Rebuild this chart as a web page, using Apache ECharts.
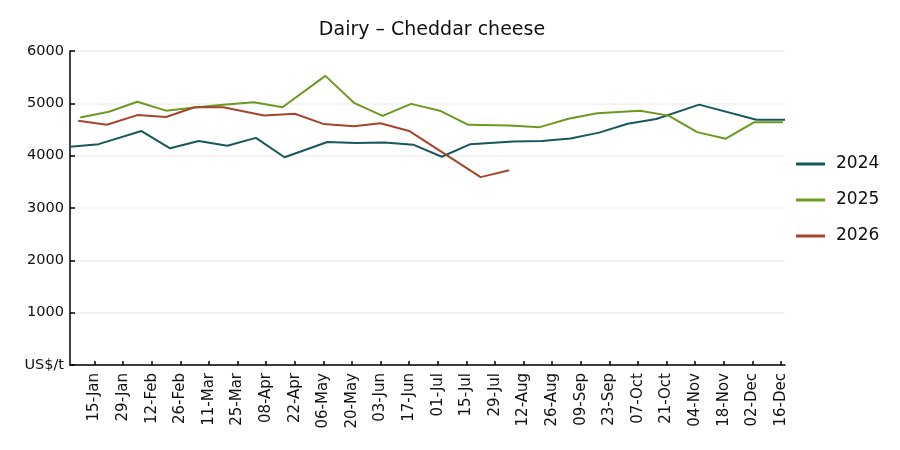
<!DOCTYPE html>
<html>
<head>
<meta charset="utf-8">
<script src="https://cdn.jsdelivr.net/npm/echarts@6/dist/echarts.min.js"></script>
<style>
  html, body { margin: 0; padding: 0; background: #fff; }
  #chart { width: 900px; height: 450px; }
</style>
</head>
<body>
<div id="chart"></div>
<script>
// x values are day-of-year positions on a common calendar
const tickDays = [15, 29, 43, 57, 71, 85, 99, 113, 127, 141, 155, 169, 183,
  197, 211, 225, 239, 253, 267, 281, 295, 309, 323, 337, 351]
const tickLabels = ['15-Jan', '29-Jan', '12-Feb', '26-Feb', '11-Mar', '25-Mar',
  '08-Apr', '22-Apr', '06-May', '20-May', '03-Jun', '17-Jun', '01-Jul', '15-Jul',
  '29-Jul', '12-Aug', '26-Aug', '09-Sep', '23-Sep', '07-Oct', '21-Oct', '04-Nov',
  '18-Nov', '02-Dec', '16-Dec']

const days2024 = [3, 17, 38, 52, 66, 80, 94, 108, 129, 143, 157, 171, 185, 199,
  220, 234, 248, 262, 276, 290, 311, 339, 353]
const values2024 = [4170, 4220, 4470, 4140, 4280, 4190, 4340, 3970, 4260, 4240,
  4250, 4210, 3980, 4220, 4270, 4280, 4330, 4440, 4610, 4700, 4975, 4685, 4685]

const days2025 = [8, 22, 36, 50, 64, 78, 93, 107, 128, 142, 156, 170, 184, 198,
  218, 233, 247, 261, 282, 296, 310, 324, 338, 352]
const values2025 = [4730, 4840, 5030, 4860, 4920, 4975, 5020, 4925, 5525, 5010,
  4760, 4990, 4860, 4590, 4575, 4545, 4705, 4810, 4860, 4765, 4450, 4325, 4640, 4640]

const days2026 = [7, 21, 36, 50, 64, 78, 98, 113, 127, 142, 155, 169, 204, 218]
const values2026 = [4665, 4590, 4775, 4740, 4925, 4925, 4766, 4800, 4607, 4563,
  4621, 4473, 3590, 3720]

const seriesNames = ['2024', '2025', '2026']
const seriesColors = ['#17585e', '#6a9a1f', '#a5452b']

const font = 'DejaVu Sans'

const pairs = (xs, ys) => xs.map((x, i) => [x, ys[i]])

const lineSeries = (name, data, color) => ({
  name,
  type: 'line',
  data,
  symbol: 'none',
  lineStyle: { color, width: 2 },
  itemStyle: { color },
  emphasis: { disabled: true }
})

const chart = echarts.init(document.getElementById('chart'))

chart.setOption({
  animation: false,
  textStyle: { fontFamily: font },
  title: {
    text: 'Dairy – Cheddar cheese',
    left: 427,
    top: 16,
    textAlign: 'center',
    textStyle: { fontFamily: font, fontSize: 19, fontWeight: 'normal', color: '#111' }
  },
  legend: {
    orient: 'vertical',
    left: 791,
    top: 149,
    icon: 'rect',
    itemWidth: 29,
    itemHeight: 3,
    itemGap: 16,
    textStyle: {
      fontFamily: font,
      fontSize: 17,
      color: '#111',
      lineHeight: 20,
      padding: [0, 0, 0, 6]
    },
    data: seriesNames
  },
  grid: { left: 70, right: 115, top: 51, bottom: 85, containLabel: false },
  xAxis: {
    type: 'value',
    min: 3,
    max: 353,
    axisLine: { show: true, lineStyle: { color: '#000', width: 1.5 } },
    axisTick: {
      show: true,
      inside: true,
      length: 4,
      customValues: tickDays,
      lineStyle: { color: '#000', width: 1.5 }
    },
    axisLabel: {
      customValues: tickDays,
      rotate: 90,
      margin: 8,
      fontFamily: font,
      fontSize: 15,
      color: '#111',
      formatter: v => tickLabels[tickDays.indexOf(v)] || ''
    },
    splitLine: { show: false }
  },
  yAxis: {
    type: 'value',
    min: 0,
    max: 6000,
    interval: 1000,
    axisLine: { show: true, lineStyle: { color: '#000', width: 1.5 } },
    axisTick: { show: true, inside: true, length: 5, lineStyle: { color: '#000', width: 1.5 } },
    axisLabel: {
      margin: 6,
      fontFamily: font,
      fontSize: 14.5,
      color: '#111',
      formatter: v => (v === 0 ? 'US$/t' : String(v))
    },
    splitLine: { show: true, lineStyle: { color: '#efefef', width: 1.5 } }
  },
  series: [
    lineSeries(seriesNames[0], pairs(days2024, values2024), seriesColors[0]),
    lineSeries(seriesNames[1], pairs(days2025, values2025), seriesColors[1]),
    lineSeries(seriesNames[2], pairs(days2026, values2026), seriesColors[2])
  ]
})
</script>
</body>
</html>
